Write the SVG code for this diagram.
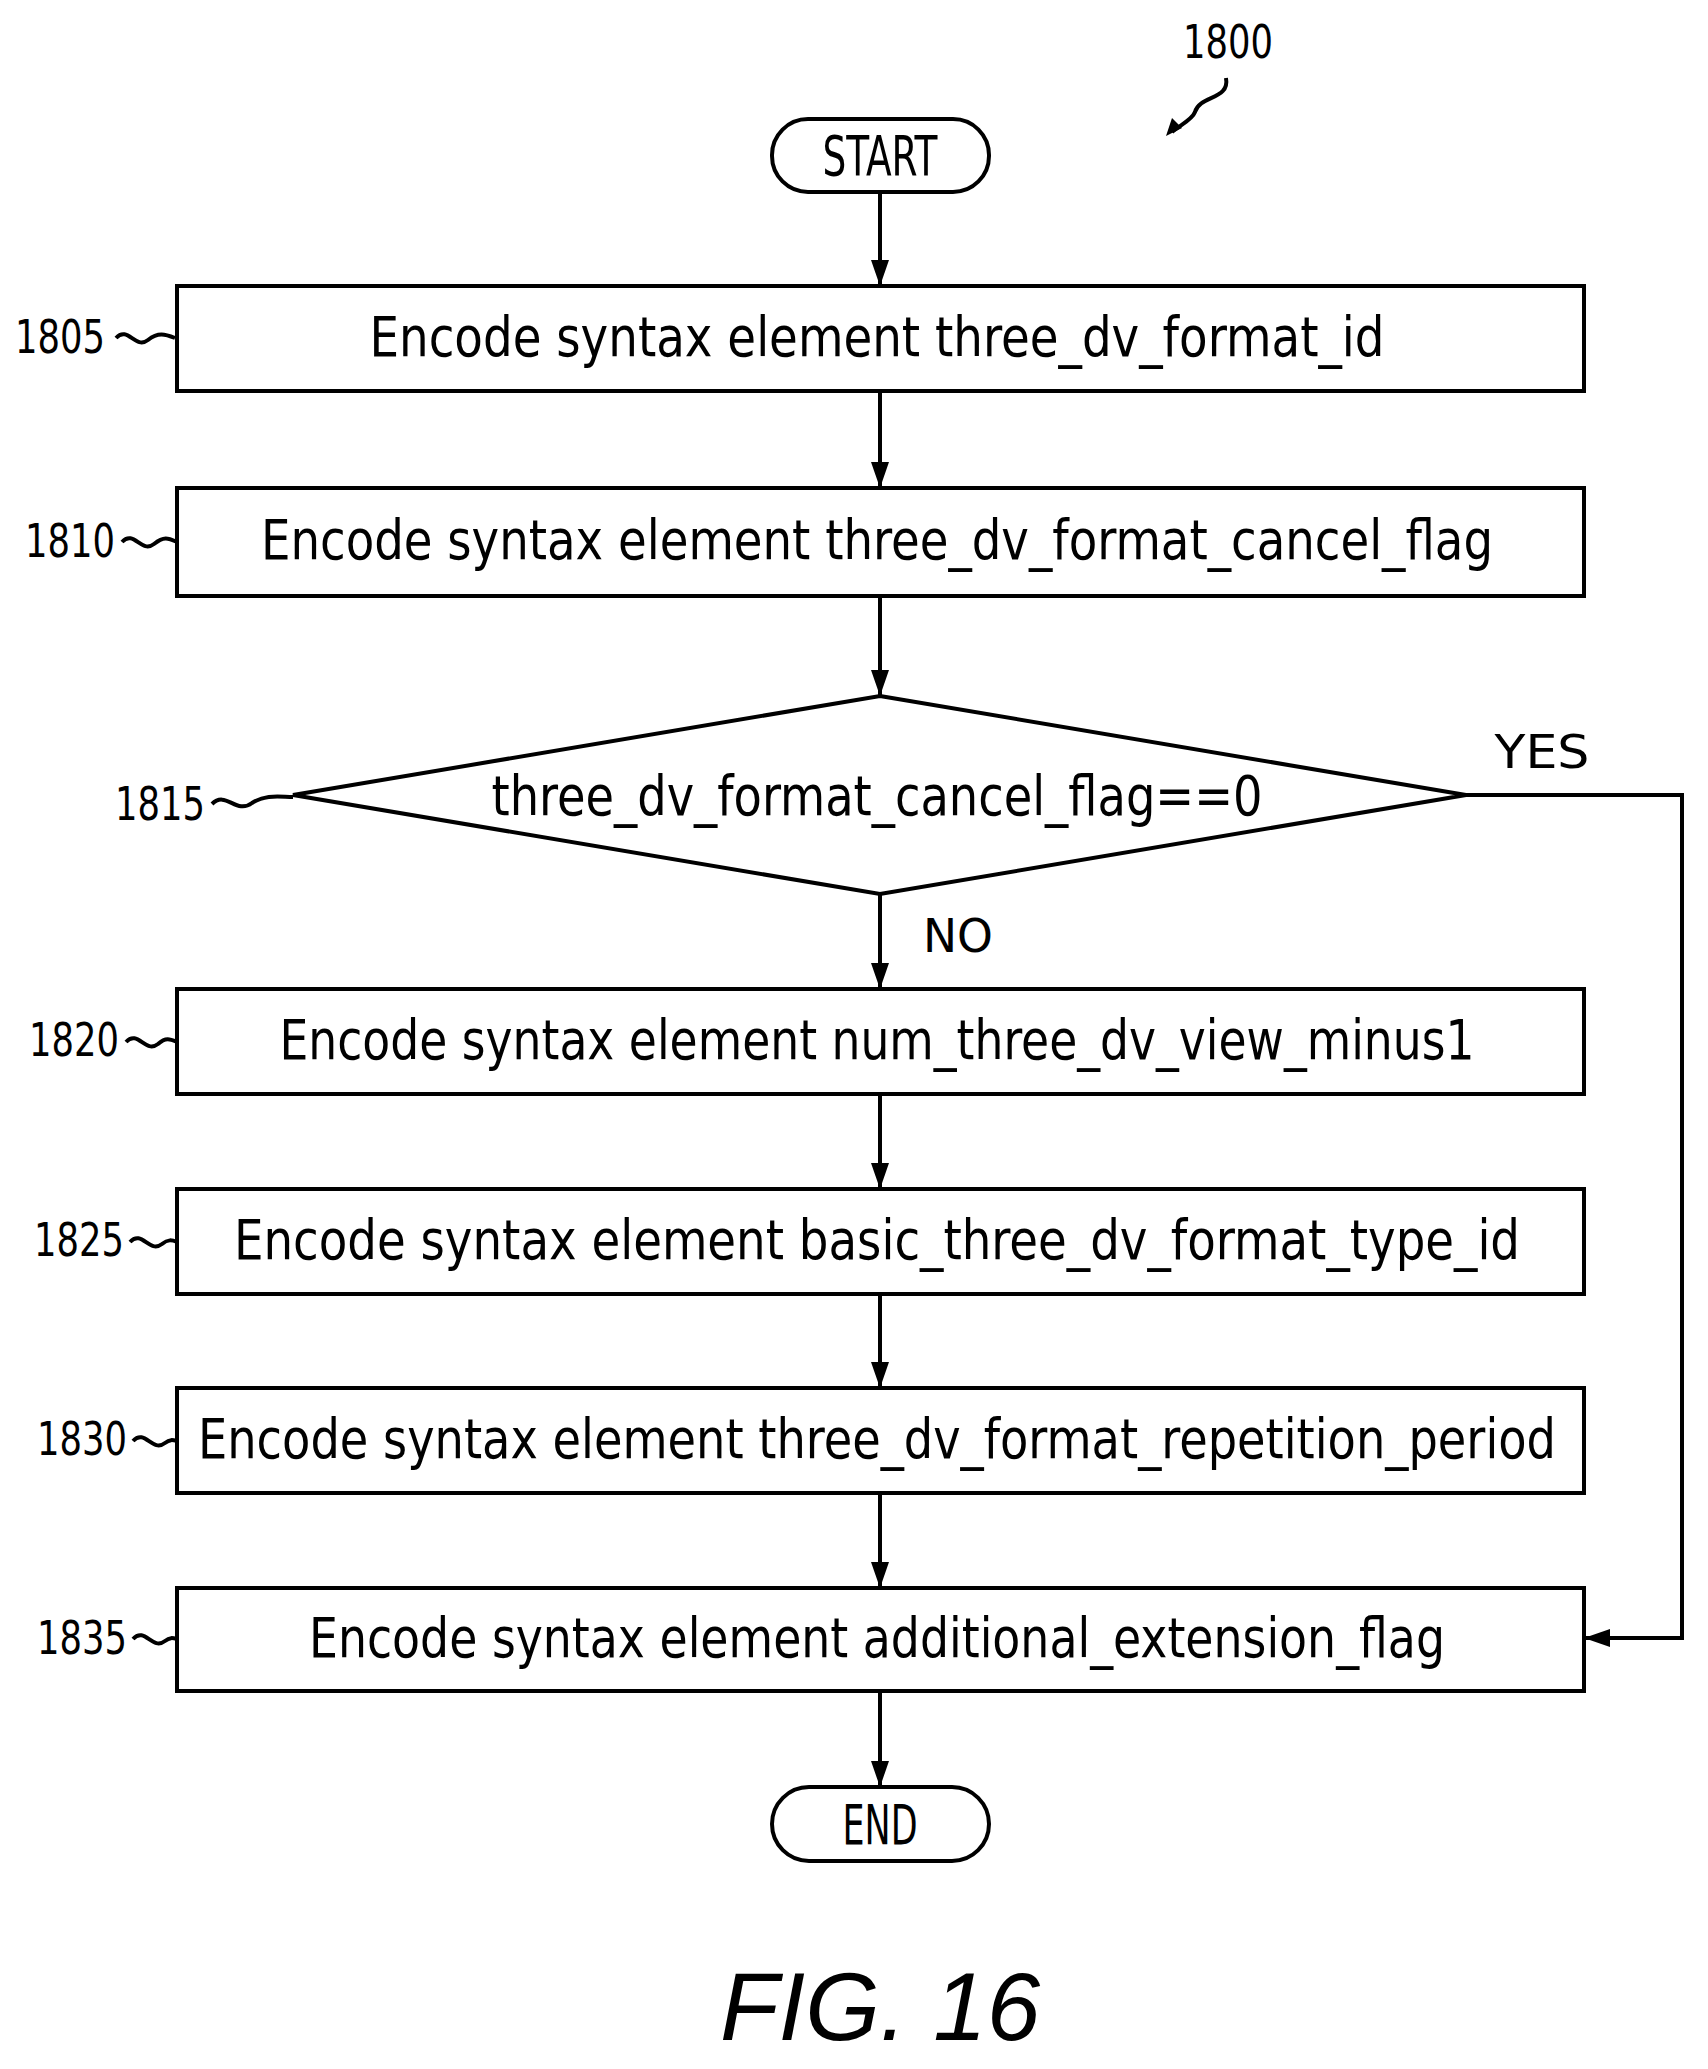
<svg xmlns="http://www.w3.org/2000/svg" width="1708" height="2069" viewBox="0 0 1708 2069">
<style>
.b{fill:#fff;stroke:#000;stroke-width:4}
.t{font-family:"DejaVu Sans","Liberation Sans",sans-serif;font-stretch:condensed;font-size:56px;text-anchor:middle}
.l{font-family:"DejaVu Sans","Liberation Sans",sans-serif;font-size:46px;text-anchor:middle}
.c{fill:none;stroke:#000;stroke-width:4}
</style>
<defs><marker id="a" markerWidth="10" markerHeight="10" refX="9" refY="5" orient="auto" markerUnits="userSpaceOnUse" viewBox="0 0 10 10"><path d="M0,0 L10,5 L0,10 Z"/></marker>
<marker id="ah" markerWidth="26" markerHeight="30" refX="26" refY="15" orient="auto" markerUnits="userSpaceOnUse"><path d="M0,6 L26,15 L0,24 Z"/></marker></defs>
<rect width="1708" height="2069" fill="#fff"/>
<g id="n1800"><text class="l" x="1228" y="58" textLength="90" lengthAdjust="spacingAndGlyphs">1800</text><path class="c" d="M1226,78 C1230,100 1200,95 1195,112 C1192,120 1180,125 1172,132" stroke-width="3"/><path d="M1166,136 L1172,118 L1182,128 Z"/></g>
<g id="start"><rect class="b" x="772" y="119" width="217" height="73" rx="36"/><text class="t" x="880" y="175" textLength="115" lengthAdjust="spacingAndGlyphs">START</text></g>
<g id="n1805"><rect class="b" x="177" y="286" width="1407" height="105"/><text class="t" x="877" y="356" textLength="1015" lengthAdjust="spacingAndGlyphs">Encode syntax element three_dv_format_id</text><text class="l" x="60" y="353" textLength="90" lengthAdjust="spacingAndGlyphs">1805</text><path class="c" stroke-width="3" d="M116,338 C128,325 135,350 148,340 C158,332 165,334 175,338"/></g>
<g id="n1810"><rect class="b" x="177" y="488" width="1407" height="108"/><text class="t" x="877" y="559" textLength="1232" lengthAdjust="spacingAndGlyphs">Encode syntax element three_dv_format_cancel_flag</text><text class="l" x="70" y="557" textLength="90" lengthAdjust="spacingAndGlyphs">1810</text><path class="c" stroke-width="3" d="M122,542 C134,529 141,554 154,544 C164,536 168,538 177,542"/></g>
<g id="n1815"><polygon class="b" points="880,696 1466,795 880,894 293,795"/><text class="t" x="877" y="815" textLength="771" lengthAdjust="spacingAndGlyphs">three_dv_format_cancel_flag==0</text><text class="l" x="160" y="820" textLength="90" lengthAdjust="spacingAndGlyphs">1815</text><path class="c" stroke-width="3" d="M212,804 C226,790 236,815 252,803 C266,794 280,797 293,797"/></g>
<g id="n1820"><rect class="b" x="177" y="989" width="1407" height="105"/><text class="t" x="877" y="1059" textLength="1195" lengthAdjust="spacingAndGlyphs">Encode syntax element num_three_dv_view_minus1</text><text class="l" x="74" y="1056" textLength="90" lengthAdjust="spacingAndGlyphs">1820</text><path class="c" stroke-width="3" d="M126,1042 C138,1029 145,1054 158,1044 C166,1037 170,1039 177,1042"/></g>
<g id="n1825"><rect class="b" x="177" y="1189" width="1407" height="105"/><text class="t" x="877" y="1259" textLength="1286" lengthAdjust="spacingAndGlyphs">Encode syntax element basic_three_dv_format_type_id</text><text class="l" x="79" y="1256" textLength="90" lengthAdjust="spacingAndGlyphs">1825</text><path class="c" stroke-width="3" d="M130,1242 C142,1229 149,1254 162,1244 C168,1239 172,1240 177,1242"/></g>
<g id="n1830"><rect class="b" x="177" y="1388" width="1407" height="105"/><text class="t" x="877" y="1458" textLength="1358" lengthAdjust="spacingAndGlyphs">Encode syntax element three_dv_format_repetition_period</text><text class="l" x="82" y="1455" textLength="90" lengthAdjust="spacingAndGlyphs">1830</text><path class="c" stroke-width="3" d="M133,1441 C145,1428 152,1453 165,1443 C170,1439 173,1440 177,1441"/></g>
<g id="n1835"><rect class="b" x="177" y="1588" width="1407" height="103"/><text class="t" x="877" y="1657" textLength="1136" lengthAdjust="spacingAndGlyphs">Encode syntax element additional_extension_flag</text><text class="l" x="82" y="1654" textLength="90" lengthAdjust="spacingAndGlyphs">1835</text><path class="c" stroke-width="3" d="M133,1639 C145,1626 152,1651 165,1641 C170,1637 173,1638 177,1639"/></g>
<g id="end"><rect class="b" x="772" y="1787" width="217" height="74" rx="37"/><text class="t" x="880" y="1844" textLength="75" lengthAdjust="spacingAndGlyphs">END</text></g>
<g id="connectors">
<path class="c" d="M880,192 V286" marker-end="url(#ah)"/>
<path class="c" d="M880,391 V488" marker-end="url(#ah)"/>
<path class="c" d="M880,596 V696" marker-end="url(#ah)"/>
<path class="c" d="M880,894 V989" marker-end="url(#ah)"/>
<path class="c" d="M880,1094 V1189" marker-end="url(#ah)"/>
<path class="c" d="M880,1294 V1388" marker-end="url(#ah)"/>
<path class="c" d="M880,1493 V1588" marker-end="url(#ah)"/>
<path class="c" d="M880,1691 V1787" marker-end="url(#ah)"/>
<path class="c" d="M1466,795 H1682 V1638 H1584" marker-end="url(#ah)"/>
<text class="l" x="1542" y="768" textLength="95" lengthAdjust="spacingAndGlyphs">YES</text>
<text class="l" x="958" y="952" textLength="70" lengthAdjust="spacingAndGlyphs">NO</text>
</g>
<text x="880" y="2040" font-family="Liberation Sans,Arial,sans-serif" font-style="italic" font-size="96" text-anchor="middle">FIG. 16</text>
</svg>
